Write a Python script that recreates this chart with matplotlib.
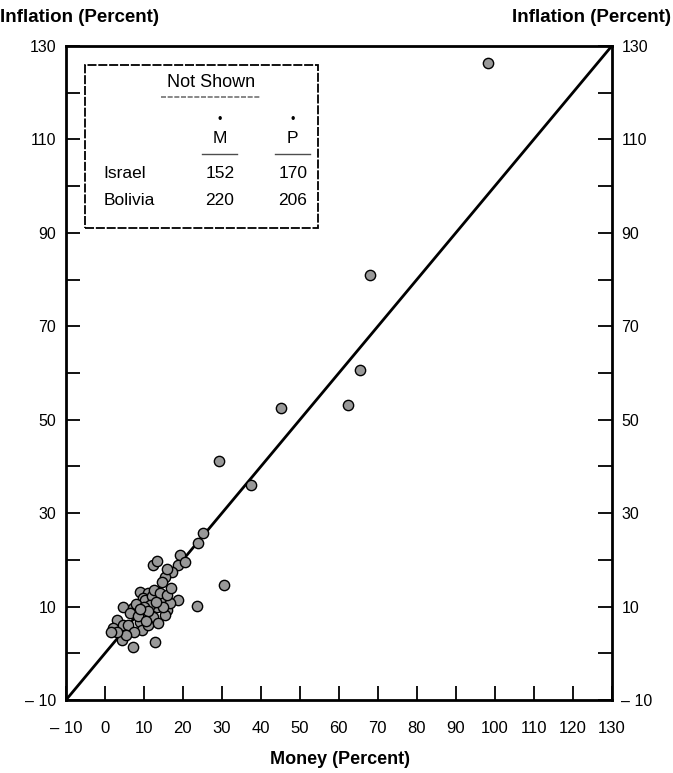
import matplotlib
matplotlib.use("Agg")
import matplotlib.pyplot as plt
from matplotlib.patches import Rectangle

plt.rcParams['font.family'] = ['Liberation Sans', 'DejaVu Sans']

# money growth vs inflation, percent per year
money = [98.2, 68.0, 65.4, 62.3, 45.1, 29.2, 37.5, 30.5, 23.6, 25.1, 23.9,
         12.3, 13.3, 19.2, 18.7, 17.2, 15.4, 14.6, 9.0, 11.0, 9.7, 18.7,
         4.6, 7.2, 13.3, 15.9, 10.3, 12.3, 15.4, 3.1, 4.6, 9.0, 2.1, 9.5,
         4.4, 7.2, 12.8, 10.3, 12.0, 14.1, 16.7, 11.5, 6.4, 8.0, 12.5, 14.0,
         16.0, 10.0, 8.5, 6.0, 7.5, 11.0, 13.5, 15.0, 17.0, 11.0, 5.5, 3.0,
         1.5, 9.0, 13.0, 10.5, 16.0, 20.5]
inflation = [126.4, 81.0, 60.7, 53.2, 52.5, 41.2, 36.0, 14.6, 10.2, 25.8, 23.6,
             19.0, 19.8, 21.0, 18.9, 17.4, 16.3, 15.3, 13.1, 12.9, 11.8, 11.4,
             9.9, 9.7, 9.9, 9.3, 8.6, 7.8, 8.2, 7.1, 6.1, 6.7, 5.4, 5.0,
             2.8, 1.3, 2.4, 11.4, 12.3, 11.4, 10.8, 10.3, 8.6, 10.5, 13.5, 13.0,
             12.5, 10.0, 8.0, 6.0, 4.5, 6.0, 6.5, 10.0, 14.0, 9.0, 4.0, 4.5,
             4.5, 9.5, 11.0, 7.0, 18.0, 19.5]

x_ticks = list(range(-10, 131, 10))
y_ticks = list(range(-10, 131, 10))
y_labeled = [-10, 10, 30, 50, 70, 90, 110, 130]

table_rows = ['Israel', 'Bolivia']
table_m = [152, 220]
table_p = [170, 206]


def fmt(v):
    return '\u2013 ' + str(abs(v)) if v < 0 else str(v)


fig = plt.figure(figsize=(6.73, 7.73), dpi=100)
ax = fig.add_axes([0.098, 0.0944, 0.811, 0.8461])
ax.set_xlim(-10, 130)
ax.set_ylim(-10, 130)

ax.plot([-10, 130], [-10, 130], color='black', lw=2.0, zorder=2)
ax.scatter(money, inflation, s=55, facecolor='0.6', edgecolor='black',
           linewidths=1.0, zorder=3)

for side in ['left', 'right', 'top', 'bottom']:
    ax.spines[side].set_linewidth(2.0)

ax.set_xticks(x_ticks)
ax.set_xticklabels([fmt(v) for v in x_ticks])
ax.set_yticks(y_ticks)
ax.set_yticklabels([fmt(v) if v in y_labeled else '' for v in y_ticks])
ax.tick_params(axis='x', direction='in', length=10, width=1.3, pad=15,
               labelsize=12)
ax.tick_params(axis='y', direction='in', length=10, width=1.3, pad=7,
               labelsize=11.5, right=True, labelright=True)

fig.text(0.0, 0.977, 'Inflation (Percent)', fontsize=13.5, fontweight='bold',
         ha='left', va='center')
fig.text(0.997, 0.977, 'Inflation (Percent)', fontsize=13.5, fontweight='bold',
         ha='right', va='center')
fig.text(0.505, 0.017, 'Money (Percent)', fontsize=13, fontweight='bold',
         ha='center', va='center')

# inset table of countries left off the chart
box = Rectangle((-5.0, 91.1), 59.6, 34.9, fill=False, lw=1.3,
                edgecolor='black', linestyle=(0, (5, 1)), zorder=4)
ax.add_patch(box)
ax.text(27.3, 122.1, 'Not Shown', fontsize=13, ha='center', va='center')
ax.plot([14.5, 40], [119.0, 119.0], color='0.45', lw=1.2, ls=(0, (3, 1)))
col_x = [29.5, 48.2]
for cx, name in zip(col_x, ['M', 'P']):
    ax.text(cx, 110.3, name, fontsize=12.5, ha='center', va='center')
    ax.text(cx, 114.2, '\u2022', fontsize=9, ha='center', va='center')
    ax.plot([cx - 4.5, cx + 4.5], [106.9, 106.9], color='0.3', lw=1.0)
for i, name in enumerate(table_rows):
    ry = 102.8 - i * 5.8
    ax.text(-0.3, ry, name, fontsize=12.5, ha='left', va='center')
    ax.text(col_x[0], ry, str(table_m[i]), fontsize=12.5, ha='center', va='center')
    ax.text(col_x[1], ry, str(table_p[i]), fontsize=12.5, ha='center', va='center')

fig.savefig('out.png', dpi=100)
